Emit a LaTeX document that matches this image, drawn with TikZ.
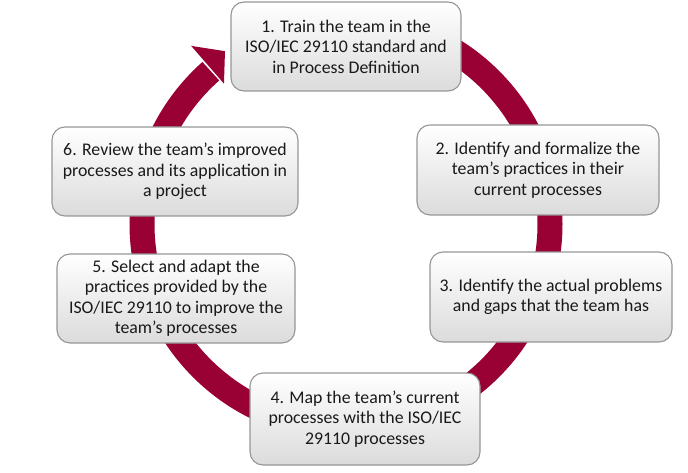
\documentclass[tikz,border=0pt]{standalone}
\usepackage{fontspec}
\setmainfont{Carlito}
\usetikzlibrary{calc}
\definecolor{ringred}{RGB}{153,0,51}
\definecolor{boxline}{RGB}{150,150,150}

\begin{document}
\begin{tikzpicture}[x=1pt,y=1pt,
  stepbox/.style={draw=boxline,line width=1.1pt,rounded corners=13pt,top color=white,bottom color=black!14,
    align=center,text=black!90,font=\fontsize{17.8}{20.5}\selectfont,inner sep=0pt}]
  \useasboundingbox (0,0) rectangle (688,-473);
  \coordinate (c) at (346,-224);

  % cycle ring and its head
  \draw[ringred,line width=25pt] ($(c)+(90:204)$) arc[start angle=90,end angle=-228.5,radius=204];
  \fill[ringred] ($(c)+(131:236)$) -- ($(c)+(125:211)$) -- ($(c)+(131:186)$) -- cycle;

  \node[stepbox,minimum width=230pt,minimum height=89pt] (s1) at (346,-46.5) {1. Train the team in the\\ISO/IEC 29110 standard and\\in Process Definition};
  \node[stepbox,minimum width=242pt,minimum height=90pt] (s2) at (538,-170) {2. Identify and formalize the\\team’s practices in their\\current processes};
  \node[stepbox,minimum width=242pt,minimum height=90pt] (s3) at (551,-297) {3. Identify the actual problems\\and gaps that the team has};
  \node[stepbox,minimum width=230pt,minimum height=92pt] (s4) at (365,-419) {4. Map the team’s current\\processes with the ISO/IEC\\29110 processes};
  \node[stepbox,minimum width=238pt,minimum height=89pt] (s5) at (176,-298.5) {5. Select and adapt the\\practices provided by the\\ISO/IEC 29110 to improve the\\team’s processes};
  \node[stepbox,minimum width=246pt,minimum height=89pt] (s6) at (175,-171.5) {6. Review the team’s improved\\processes and its application in\\a project};
\end{tikzpicture}
\end{document}
